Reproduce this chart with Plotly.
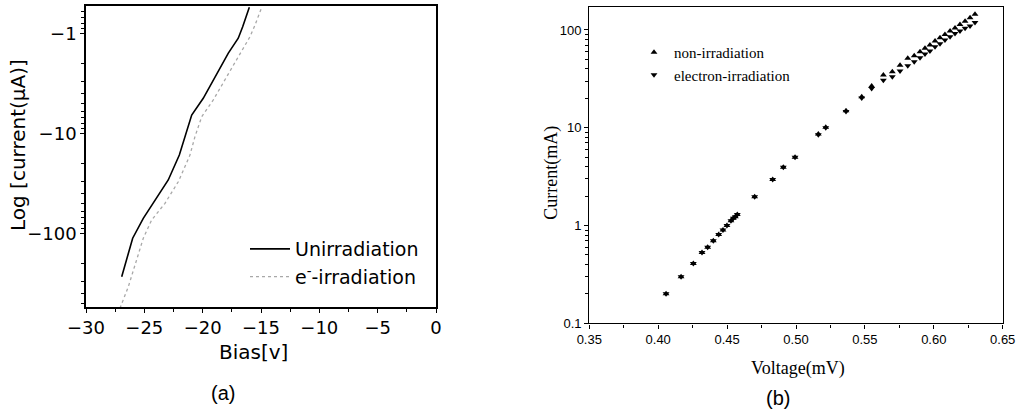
import plotly.graph_objects as go

# ---- Panel (a): reverse-bias I-V (log of |current|, uA) ----
bias_unirr = [-26.94, -26.00, -25.09, -23.94, -22.95, -22.00, -21.66, -20.94, -19.95, -18.80, -17.80, -16.95, -16.57, -16.0]
cur_unirr = [272, 112, 70.8, 44.7, 29.3, 16.5, 12.1, 6.56, 4.47, 2.61, 1.58, 1.12, 0.86, 0.55]

bias_irr = [-27.09, -26.37, -25.09, -24.37, -23.23, -22.09, -21.09, -20.66, -20.08, -19.09, -17.94, -16.80, -15.94, -15.51, -14.94]
cur_irr = [562, 342, 112, 73.6, 50.1, 30.5, 16.5, 10.8, 6.82, 4.64, 2.72, 1.58, 1.08, 0.826, 0.55]

a_ytickvals = [1, 10, 100]
a_yticktext = ["\u22121", "\u221210", "\u2212100"]

# ---- Panel (b): forward I-V ----
voltage = [0.4057, 0.4166, 0.4255, 0.4318, 0.4359, 0.4400, 0.4439, 0.4470, 0.4499, 0.4528,
           0.4545, 0.4560, 0.4574, 0.4700, 0.4831, 0.4908, 0.4993, 0.5162, 0.5216, 0.5363,
           0.5477, 0.5549, 0.5634, 0.5699, 0.5755, 0.5811, 0.5858, 0.5900, 0.5936, 0.5972,
           0.6009, 0.6045, 0.6081, 0.6118, 0.6154, 0.6190, 0.6227, 0.6263, 0.6299]
current_non = [0.20, 0.30, 0.41, 0.53, 0.60, 0.70, 0.81, 0.90, 1.00, 1.12,
               1.19, 1.23, 1.30, 1.97, 2.96, 3.94, 4.98, 8.63, 10.1, 14.9,
               20.7, 26.8, 34.6, 37.4, 43.7, 51.3, 54.5, 59.8, 65.2, 70.2,
               77.0, 83.2, 90.1, 97.4, 105, 114, 123, 133, 145]
current_elec = [0.20, 0.30, 0.41, 0.53, 0.60, 0.70, 0.81, 0.90, 1.00, 1.12,
                1.19, 1.23, 1.30, 1.97, 2.96, 3.94, 4.98, 8.5, 10.0, 14.7,
                20.1, 25.2, 30.7, 33.3, 38.0, 43.0, 47.3, 52.0, 56.8, 60.9,
                67.3, 72.3, 78.9, 85.1, 92.3, 97.4, 104, 110, 119]
b_ytickvals = [0.1, 1, 10, 100]
b_yticktext = ["0.1", "1", "10", "100"]

W, H = 1027, 413
SANS_A = "DejaVu Sans"
SERIF = "Liberation Serif"
SANS_B = "Liberation Sans"

# minor ticks for the log axes: 2..9 within each decade
log_minor = [m * 10 ** e for e in range(-2, 4) for m in range(2, 10)]

fig = go.Figure()
fig.add_trace(go.Scatter(x=bias_unirr, y=cur_unirr, mode="lines", name="Unirradiation",
                         line=dict(color="black", width=1.6), xaxis="x", yaxis="y", legend="legend"))
fig.add_trace(go.Scatter(x=bias_irr, y=cur_irr, mode="lines", name="e<sup>-</sup>-irradiation",
                         line=dict(color="#a8a8a8", width=1.3, dash="dot"), xaxis="x", yaxis="y", legend="legend"))
fig.add_trace(go.Scatter(x=voltage, y=current_non, mode="markers", name="non-irradiation",
                         marker=dict(symbol="triangle-up", size=6, color="black"),
                         xaxis="x2", yaxis="y2", legend="legend2"))
fig.add_trace(go.Scatter(x=voltage, y=current_elec, mode="markers", name="electron-irradiation",
                         marker=dict(symbol="triangle-down", size=6, color="black"),
                         xaxis="x2", yaxis="y2", legend="legend2"))

def px_x(p):
    return p / W

def px_y(p):
    return 1 - p / H

axis_common = dict(showline=True, linecolor="black", mirror=True, showgrid=False, zeroline=False,
                   ticks="outside", tickcolor="black", automargin=False)

def label(text, x, y, family, size, angle=0):
    return dict(text=text, x=px_x(x), y=px_y(y), xref="paper", yref="paper",
                xanchor="center", yanchor="middle", textangle=angle, showarrow=False,
                font=dict(family=family, size=size, color="black"))

fig.update_layout(
    template="none",
    width=W, height=H,
    margin=dict(l=0, r=0, t=0, b=0, pad=0),
    paper_bgcolor="white", plot_bgcolor="white",
    xaxis=dict(domain=[px_x(86), px_x(436)], anchor="y", range=[-30, 0], dtick=5,
               linewidth=1.6, ticklen=4,
               tickfont=dict(family=SANS_A, size=18, color="black"),
               minor=dict(dtick=2.5, ticks="outside", ticklen=3, tickcolor="black", showgrid=False),
               **axis_common),
    yaxis=dict(domain=[px_y(307), px_y(6)], anchor="x", type="log", range=[2.737, -0.273],
               tickmode="array", tickvals=a_ytickvals, ticktext=a_yticktext, linewidth=1.6, ticklen=4,
               tickfont=dict(family=SANS_A, size=18, color="black"),
               minor=dict(tickmode="array", tickvals=log_minor, ticks="outside", ticklen=3,
                          tickcolor="black", showgrid=False),
               **axis_common),
    xaxis2=dict(domain=[px_x(589.3), px_x(1002.7)], anchor="y2", range=[0.35, 0.65], dtick=0.05,
                tickformat=".2f", linewidth=1.4, ticklen=4,
                tickfont=dict(family=SANS_B, size=13, color="black"),
                minor=dict(dtick=0.025, ticks="outside", ticklen=3, tickcolor="black", showgrid=False),
                **axis_common),
    yaxis2=dict(domain=[px_y(323.3), px_y(7.3)], anchor="x2", type="log", range=[-1, 2.232],
                tickmode="array", tickvals=b_ytickvals, ticktext=b_yticktext, linewidth=1.4, ticklen=4,
                tickfont=dict(family=SANS_B, size=13, color="black"),
                minor=dict(tickmode="array", tickvals=log_minor, ticks="outside", ticklen=3,
                           tickcolor="black", showgrid=False),
                **axis_common),
    legend=dict(x=px_x(245), y=px_y(230), xanchor="left", yanchor="top",
                bgcolor="rgba(0,0,0,0)", font=dict(family=SANS_A, size=19, color="black"),
                tracegroupgap=0, itemwidth=40),
    legend2=dict(x=px_x(634), y=px_y(36), xanchor="left", yanchor="top",
                 bgcolor="rgba(0,0,0,0)", font=dict(family=SERIF, size=15, color="black"),
                 tracegroupgap=0),
    annotations=[
        label("Log [current(\u03bcA)]", 18, 145, SANS_A, 20, -90),
        label("Bias[v]", 253, 352, SANS_A, 20),
        label("(a)", 223, 393, SANS_B, 20),
        label("Current(mA)", 551.7, 173, SERIF, 18, -90),
        label("Voltage(mV)", 798, 368, SERIF, 18),
        label("(b)", 778, 398, SANS_B, 20),
    ],
)

fig.write_html("out.html")
